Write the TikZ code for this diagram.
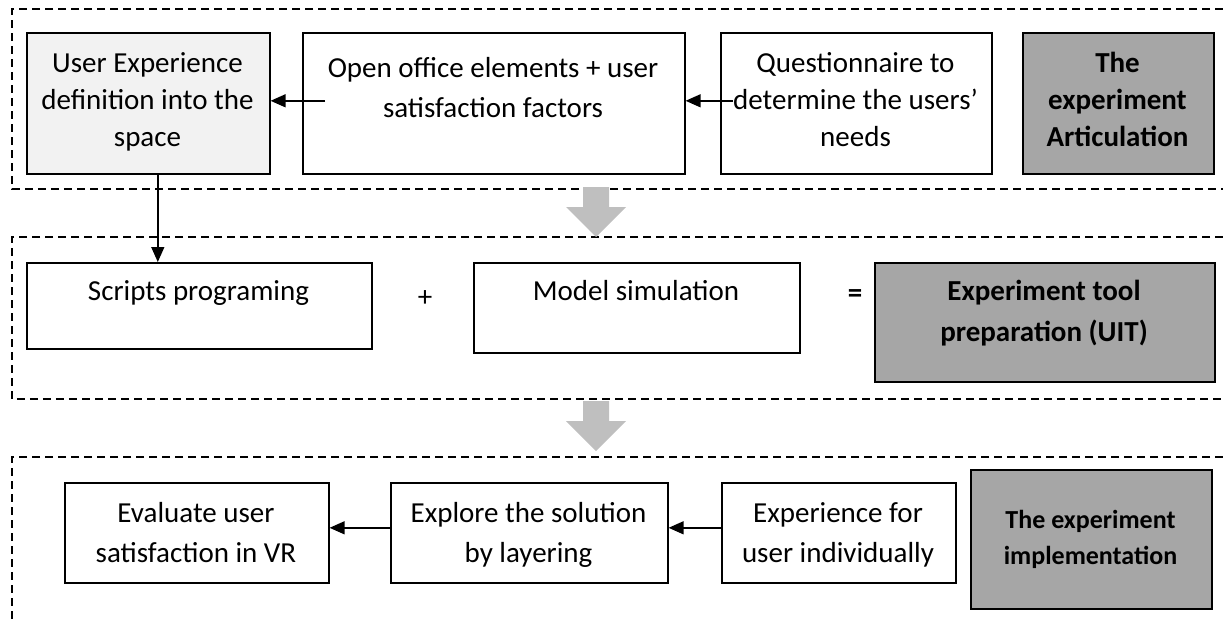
\documentclass[tikz,border=0pt]{standalone}
\usepackage{fontspec}
\setmainfont{Carlito}
\usetikzlibrary{arrows.meta}
\definecolor{lightfill}{HTML}{F2F2F2}
\definecolor{darkfill}{HTML}{A6A6A6}
\definecolor{blockgray}{HTML}{BFBFBF}
\begin{document}
\begin{tikzpicture}[x=1pt,y=-1pt,
  box/.style={draw=black, line width=1.6pt, inner sep=0pt, anchor=north west},
  frame/.style={draw=black, line width=1.4pt, dash pattern=on 8pt off 5pt},
  conn/.style={draw=black, line width=1.4pt, -{Triangle[length=15pt,width=13pt]}},
  txtA/.style={inner sep=0pt, align=center, anchor=north, font=\fontsize{29}{37}\selectfont},
  txtB/.style={inner sep=0pt, align=center, anchor=north, font=\fontsize{29}{40}\selectfont},
  txtC/.style={inner sep=0pt, align=center, anchor=north, font=\fontsize{29}{41}\selectfont\bfseries},
  txtD/.style={inner sep=0pt, align=center, anchor=north, font=\fontsize{26}{36}\selectfont\bfseries},
  txtS/.style={inner sep=0pt, anchor=base, font=\fontsize{29}{37}\selectfont},
  blockarrow/.style={fill=blockgray, draw=none}]
\useasboundingbox (0,0) rectangle (1223,619);

% dashed frames
\draw[frame] (1223,9) -- (12,9) -- (12,189) -- (1223,189);
\draw[frame] (1223,237) -- (12,237) -- (12,399) -- (1223,399);
\draw[frame] (1223,457) -- (12,457) -- (12,619);

% gray block arrows
\fill[blockarrow] (583,187) -- (609,187) -- (609,207) -- (626,207) -- (596,237) -- (566,207) -- (583,207) -- cycle;
\fill[blockarrow] (583,401) -- (609,401) -- (609,421) -- (626,421) -- (596,451) -- (566,421) -- (583,421) -- cycle;

% row 1
\node[box, fill=lightfill, minimum width=243pt, minimum height=141pt] (b1) at (26,32) {};
\node[box, minimum width=382pt, minimum height=141pt] (b2) at (302,32) {};
\node[box, minimum width=271pt, minimum height=141pt] (b3) at (720,32) {};
\node[box, fill=darkfill, minimum width=191pt, minimum height=141pt] (b4) at (1022,32) {};
\node[txtA] (t1) at (147.5,46.1) {\strut User Experience\\definition into the\\space};
\node[txtB] (t2) at (493,49) {\strut Open office elements + user\\satisfaction factors};
\node[txtA] (t3) at (855.5,46.1) {\strut Questionnaire to\\determine the users’\\needs};
\node[txtA, font=\fontsize{29}{37}\selectfont\bfseries] (t4) at (1117.5,46.1) {\strut The\\experiment\\Articulation};

% row 2
\node[box, minimum width=345pt, minimum height=86pt] (s1) at (26,262) {};
\node[box, minimum width=326pt, minimum height=90pt] (s2) at (473,262) {};
\node[box, fill=darkfill, minimum width=340pt, minimum height=119pt] (s3) at (874,262) {};
\node[txtS] (u1) at (198.5,300) {Scripts programing};
\node[txtS] (u2) at (636,300) {Model simulation};
\node[txtC] (u3) at (1044,272) {\strut Experiment tool\\preparation (UIT)};
\node[inner sep=0pt, font=\fontsize{29}{37}\selectfont] (plus) at (425,298.5) {+};
\node[inner sep=0pt, font=\fontsize{29}{37}\selectfont\bfseries] (eq) at (855,296) {=};

% row 3
\node[box, minimum width=264pt, minimum height=100pt] (r1) at (64,482) {};
\node[box, minimum width=277pt, minimum height=100pt] (r2) at (390,482) {};
\node[box, minimum width=234pt, minimum height=100pt] (r3) at (721,482) {};
\node[box, fill=darkfill, minimum width=241pt, minimum height=139pt] (r4) at (970,469) {};
\node[txtB] (v1) at (196,494) {\strut Evaluate user\\satisfaction in VR};
\node[txtB] (v2) at (528.5,494) {\strut Explore the solution\\by layering};
\node[txtB] (v3) at (838,494) {\strut Experience for\\user individually};
\node[txtD] (v4) at (1090.5,502.8) {\strut The experiment\\implementation};

% connectors
\draw[conn] ([xshift=23pt,yshift=2.5pt]b2.west) -- ([yshift=2.5pt]b1.east);
\draw[conn] ([xshift=13pt,yshift=2.5pt]b3.west) -- ([yshift=2.5pt]b2.east);
\draw[conn] ([xshift=9.5pt]b1.south) -- ([xshift=9.5pt]b1.south |- s1.north);
\draw[conn] ([yshift=5pt]r2.west) -- ([yshift=5pt]r1.east);
\draw[conn] ([yshift=5pt]r3.west) -- ([yshift=5pt]r2.east);
\end{tikzpicture}
\end{document}
